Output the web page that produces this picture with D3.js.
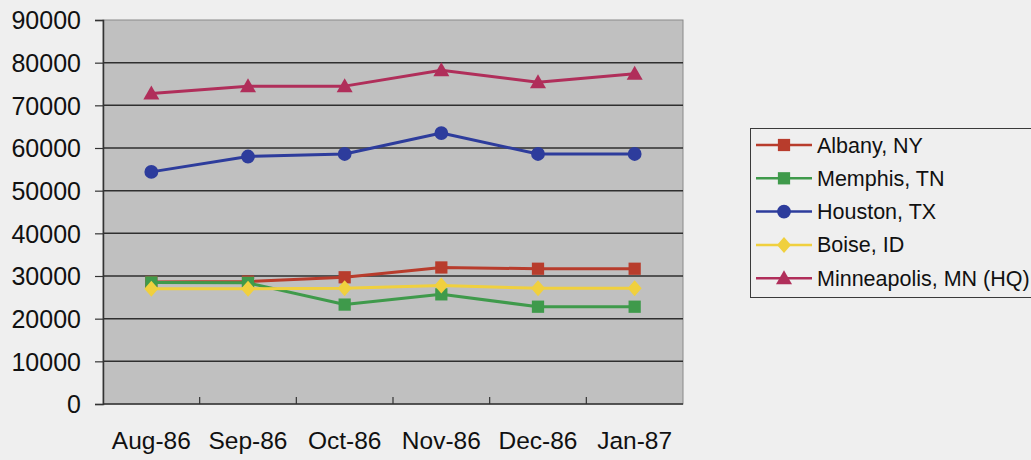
<!DOCTYPE html>
<html>
<head>
<meta charset="utf-8">
<script src="https://cdn.jsdelivr.net/npm/d3@7"></script>
<style>
  html, body { margin: 0; padding: 0; background: #efefef; }
  svg { display: block; }
  text { font-family: "Liberation Sans", Arial, sans-serif; fill: #111; }
</style>
</head>
<body>
<svg id="chart" width="1031" height="460"></svg>
<script>
// Monthly figures per office
const months = ["Aug-86", "Sep-86", "Oct-86", "Nov-86", "Dec-86", "Jan-87"];
const albany      = [28600, 28700, 29700, 32000, 31700, 31700];
const memphis     = [28500, 28400, 23300, 25700, 22800, 22800];
const houston     = [54400, 58000, 58600, 63500, 58600, 58600];
const boise       = [27000, 27000, 27100, 27800, 27100, 27100];
const minneapolis = [72800, 74500, 74500, 78200, 75400, 77400];
const yTicks = [0, 10000, 20000, 30000, 40000, 50000, 60000, 70000, 80000, 90000];

const series = [
  { name: "Albany, NY",          values: albany,      color: "#b83c2c", marker: "square" },
  { name: "Memphis, TN",         values: memphis,     color: "#3f9a4b", marker: "square" },
  { name: "Houston, TX",         values: houston,     color: "#2d3c9c", marker: "circle" },
  { name: "Boise, ID",           values: boise,       color: "#f0d03e", marker: "diamond" },
  { name: "Minneapolis, MN (HQ)", values: minneapolis, color: "#b02e5a", marker: "triangle" }
];

const svg = d3.select("#chart");
const plot = { left: 103, right: 683, top: 20, bottom: 404 };

const x = d3.scaleBand().domain(months).range([plot.left, plot.right]).padding(0);
const y = d3.scaleLinear().domain([0, 90000]).range([plot.bottom, plot.top]);

// plot area
svg.append("rect")
  .attr("x", plot.left).attr("y", plot.top)
  .attr("width", plot.right - plot.left).attr("height", plot.bottom - plot.top)
  .attr("fill", "#c0c0c0").attr("stroke", "#8a8a8a").attr("stroke-width", 1);

// horizontal gridlines
svg.append("g").selectAll("line")
  .data(yTicks.filter(d => d > 0 && d < 90000))
  .join("line")
  .attr("x1", plot.left).attr("x2", plot.right)
  .attr("y1", d => y(d)).attr("y2", d => y(d))
  .attr("stroke", "#2f2f2f").attr("stroke-width", 1.5);

// y axis
const yAxis = svg.append("g")
  .attr("transform", `translate(${plot.left},0)`)
  .call(d3.axisLeft(y).tickValues(yTicks).tickFormat(d3.format("d")).tickSize(8).tickPadding(14));
yAxis.select(".domain").attr("stroke", "#333").attr("stroke-width", 1.5);
yAxis.selectAll(".tick line").attr("stroke", "#333").attr("stroke-width", 1.2);
yAxis.selectAll(".tick text")
  .style("font-family", "'Liberation Sans', Arial, sans-serif")
  .style("font-size", "25px").attr("fill", "#111").attr("dy", "0.35em");

// x axis: baseline, category divider ticks pointing inward, labels centred in bands
svg.append("line")
  .attr("x1", plot.left).attr("x2", plot.right)
  .attr("y1", plot.bottom).attr("y2", plot.bottom)
  .attr("stroke", "#333").attr("stroke-width", 1.5);
svg.append("g").selectAll("line")
  .data(months.slice(1))
  .join("line")
  .attr("x1", d => x(d)).attr("x2", d => x(d))
  .attr("y1", plot.bottom).attr("y2", plot.bottom - 7)
  .attr("stroke", "#333").attr("stroke-width", 1.2);
svg.append("g").selectAll("text")
  .data(months)
  .join("text")
  .attr("x", d => x(d) + x.bandwidth() / 2)
  .attr("y", 449)
  .attr("text-anchor", "middle")
  .style("font-size", "24.5px")
  .text(d => d);

// marker shapes
function markerPath(type) {
  if (type === "square")   return d3.symbol(d3.symbolSquare, 150)();
  if (type === "circle")   return d3.symbol(d3.symbolCircle, 150)();
  if (type === "diamond")  return "M0,-8L7,0L0,8L-7,0Z";
  if (type === "triangle") return "M0,-8L8,6L-8,6Z";
}

const line = d3.line()
  .x((d, i) => x(months[i]) + x.bandwidth() / 2)
  .y(d => y(d));

series.forEach(s => {
  const g = svg.append("g");
  g.append("path")
    .attr("d", line(s.values))
    .attr("fill", "none")
    .attr("stroke", s.color)
    .attr("stroke-width", 3)
    .attr("stroke-linejoin", "round");
  g.selectAll("path.mk")
    .data(s.values)
    .join("path")
    .attr("class", "mk")
    .attr("transform", (d, i) => `translate(${x(months[i]) + x.bandwidth() / 2},${y(d)})`)
    .attr("d", markerPath(s.marker))
    .attr("fill", s.color);
});

// legend
const legend = svg.append("g");
legend.append("rect")
  .attr("x", 750.5).attr("y", 128.5)
  .attr("width", 300).attr("height", 169)
  .attr("fill", "none").attr("stroke", "#3a3a3a").attr("stroke-width", 1);
const rows = legend.selectAll("g.row")
  .data(series)
  .join("g")
  .attr("class", "row")
  .attr("transform", (d, i) => `translate(0,${145 + i * 33.3})`);
rows.append("line")
  .attr("x1", 756).attr("x2", 812).attr("y1", 0).attr("y2", 0)
  .attr("stroke", d => d.color).attr("stroke-width", 2.5);
rows.append("path")
  .attr("transform", "translate(784,0)")
  .attr("d", d => markerPath(d.marker))
  .attr("fill", d => d.color);
rows.append("text")
  .attr("x", 817).attr("y", 0).attr("dy", "0.35em")
  .style("font-size", "21.5px")
  .text(d => d.name);
</script>
</body>
</html>
